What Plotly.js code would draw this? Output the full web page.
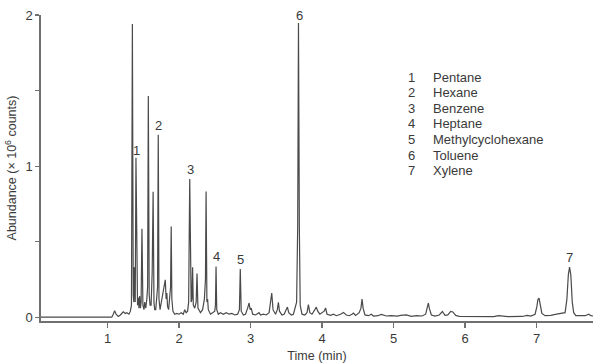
<!DOCTYPE html>
<html>
<head>
<meta charset="utf-8">
<script src="https://cdn.plot.ly/plotly-3.0.1.min.js"></script>
<style>html,body{margin:0;padding:0;background:#fff;}#chart{width:595px;height:363px;}</style>
</head>
<body>
<div id="chart"></div>
<script>
// Chromatogram trace: retention time (min) and abundance (x 10^6 counts)
const time = [
  0.07, 1.06, 1.08, 1.10, 1.12, 1.15, 1.18, 1.22, 1.25, 1.27, 1.30, 1.32,
  1.335, 1.348, 1.36, 1.368, 1.375, 1.382,
  1.388, 1.398, 1.41,
  1.42, 1.43, 1.44, 1.45, 1.46,
  1.47, 1.482, 1.495,
  1.51, 1.52, 1.535, 1.55,
  1.561, 1.571, 1.583,
  1.595, 1.61, 1.625, 1.638, 1.65, 1.66,
  1.675, 1.69, 1.70, 1.71, 1.72,
  1.735, 1.75, 1.77, 1.79, 1.808, 1.82, 1.83, 1.84, 1.855, 1.87,
  1.882, 1.891, 1.90, 1.915, 1.94, 1.97, 2.00, 2.03, 2.06, 2.08, 2.10, 2.12, 2.135,
  2.150, 2.162, 2.17, 2.18, 2.19, 2.20, 2.22, 2.24, 2.252, 2.265,
  2.28, 2.30, 2.33, 2.355, 2.37, 2.379, 2.39, 2.40, 2.41, 2.44, 2.47, 2.50,
  2.51, 2.518, 2.528, 2.55, 2.58, 2.62, 2.66, 2.70, 2.74, 2.78, 2.82, 2.845,
  2.857, 2.87, 2.90, 2.93, 2.96, 2.98, 2.995, 3.01, 3.03, 3.07, 3.12, 3.14, 3.18, 3.22, 3.26, 3.28,
  3.297, 3.315, 3.35, 3.375, 3.39, 3.405, 3.44, 3.47, 3.50, 3.516, 3.535, 3.57, 3.60, 3.63,
  3.645, 3.66, 3.671, 3.683, 3.695, 3.72, 3.76, 3.79, 3.81, 3.83, 3.86, 3.90, 3.92, 3.94, 3.97,
  4.03, 4.05, 4.07, 4.12, 4.16, 4.20, 4.26, 4.30, 4.34, 4.38, 4.42, 4.44, 4.47, 4.52,
  4.545, 4.56, 4.575, 4.60, 4.65, 4.69, 4.72, 4.78, 4.83, 4.90, 4.97, 5.05, 5.10, 5.18, 5.25, 5.32, 5.40, 5.45,
  5.475, 5.488, 5.50, 5.53, 5.58, 5.64, 5.684, 5.72, 5.76, 5.80, 5.83, 5.87, 5.92, 6.00, 6.20, 6.40, 6.47, 6.52, 6.60, 6.80, 6.87, 6.92,
  6.98, 7.005, 7.02, 7.035, 7.05, 7.075, 7.12, 7.20, 7.28, 7.35, 7.40,
  7.425, 7.445, 7.462, 7.48, 7.50, 7.52, 7.55, 7.62, 7.68, 7.73, 7.76, 7.79
];
const abundance = [
  0, 0, 0.02, 0.043, 0.02, 0.005, 0.015, 0.036, 0.025, 0.03, 0.02, 0.04,
  0.08, 1.94, 0.15, 0.10, 0.33, 0.10,
  0.10, 1.055, 0.10,
  0.08, 0.13, 0.06, 0.14, 0.06,
  0.10, 0.585, 0.08,
  0.05, 0.10, 0.06, 0.12,
  0.20, 1.464, 0.15,
  0.08, 0.08, 0.30, 0.83, 0.10, 0.05,
  0.05, 0.15, 0.20, 1.207, 0.12,
  0.05, 0.10, 0.16, 0.20, 0.248, 0.12, 0.16, 0.07, 0.05, 0.15,
  0.20, 0.60, 0.12, 0.04, 0.02, 0.025, 0.02, 0.03, 0.02, 0.05, 0.03, 0.04, 0.10,
  0.914, 0.15, 0.10, 0.12, 0.33, 0.08, 0.06, 0.10, 0.29, 0.06,
  0.05, 0.03, 0.05, 0.12, 0.25, 0.832, 0.10, 0.12, 0.05, 0.02, 0.03, 0.04,
  0.08, 0.336, 0.05, 0.02, 0.03, 0.02, 0.03, 0.02, 0.025, 0.015, 0.02, 0.05,
  0.319, 0.04, 0.015, 0.02, 0.06, 0.094, 0.05, 0.06, 0.02, 0.015, 0.03, 0.015, 0.02, 0.015, 0.03, 0.10,
  0.16, 0.05, 0.02, 0.05, 0.098, 0.04, 0.015, 0.02, 0.05, 0.067, 0.03, 0.015, 0.02, 0.08,
  0.10, 0.60, 1.947, 0.60, 0.08, 0.02, 0.015, 0.03, 0.083, 0.03, 0.02, 0.05, 0.067, 0.04, 0.02,
  0.04, 0.061, 0.02, 0.012, 0.02, 0.01, 0.02, 0.032, 0.015, 0.01, 0.02, 0.028, 0.012, 0.03,
  0.06, 0.12, 0.06, 0.015, 0.01, 0.02, 0.008, 0.01, 0.018, 0.008, 0.01, 0.007, 0.012, 0.015, 0.006, 0.01, 0.008, 0.02,
  0.07, 0.094, 0.06, 0.015, 0.008, 0.015, 0.038, 0.012, 0.015, 0.038, 0.035, 0.012, 0.006, 0.005, 0.004, 0.004, 0.01, 0.006, 0.004, 0.005, 0.012, 0.008,
  0.02, 0.07, 0.118, 0.127, 0.09, 0.025, 0.01, 0.012, 0.02, 0.025, 0.03,
  0.12, 0.28, 0.332, 0.28, 0.10, 0.03, 0.01, 0.008, 0.01, 0.02, 0.01, 0.008
];

// Peak identification
const peakNumbers = ['1', '2', '3', '4', '5', '6', '7'];
const compounds = ['Pentane', 'Hexane', 'Benzene', 'Heptane', 'Methylcyclohexane', 'Toluene', 'Xylene'];
const peakTimes = [1.398, 1.71, 2.15, 2.518, 2.857, 3.671, 7.462];
const peakHeights = [1.055, 1.207, 0.914, 0.336, 0.319, 1.947, 0.332];

const xTicks = [1, 2, 3, 4, 5, 6, 7];
const yTicks = [0, 1, 2];
const yMinorTicks = [0.5, 1.5];

const textColor = '#3a3a3a';
const axisColor = '#707070';
const font = {family: 'Liberation Sans, Arial, sans-serif', size: 13, color: textColor};

// label offsets above each peak (in abundance units)
const labelLift = [0.048, 0.061, 0.066, 0.066, 0.066, 0.053, 0.066];
const labelDx = [0.014, 0.005, 0.01, 0.004, 0.009, 0.017, 0];

const annotations = [];
peakNumbers.forEach((n, i) => {
  annotations.push({
    x: peakTimes[i] + labelDx[i], y: peakHeights[i] + labelLift[i], xref: 'x', yref: 'y',
    text: n, showarrow: false, xanchor: 'center', yanchor: 'middle', font: font
  });
});
// compound key
peakNumbers.forEach((n, i) => {
  const py = 77.3 + 15.57 * i;
  const yv = (317.5 - py) / 151.25;
  annotations.push({x: 5.252, y: yv, xref: 'x', yref: 'y', text: n, showarrow: false,
    xanchor: 'center', yanchor: 'middle', font: font});
  annotations.push({x: 5.531, y: yv, xref: 'x', yref: 'y', text: compounds[i], showarrow: false,
    xanchor: 'left', yanchor: 'middle', font: font});
});

const trace = {
  x: time, y: abundance, type: 'scatter', mode: 'lines',
  line: {color: '#4a4a4a', width: 1.2}, hoverinfo: 'skip'
};

const layout = {
  width: 595, height: 363,
  margin: {l: 41, r: 2, t: 15, b: 42},
  paper_bgcolor: '#fff', plot_bgcolor: '#fff',
  showlegend: false,
  font: font,
  xaxis: {
    range: [0.07, 7.79], tickvals: xTicks, ticks: 'outside', ticklen: 5, tickwidth: 1.2,
    tickcolor: axisColor, showline: true, linecolor: axisColor, linewidth: 1.6,
    showgrid: false, zeroline: false, tickfont: font,
    title: {text: 'Time (min)', font: {family: font.family, size: 12.5, color: textColor}, standoff: 8}
  },
  yaxis: {
    range: [-0.025, 2], tickvals: yTicks, ticks: 'outside', ticklen: 4, tickwidth: 1.2,
    tickcolor: axisColor, showline: true, linecolor: axisColor, linewidth: 1.6,
    showgrid: false, zeroline: false, tickfont: font,
    minor: {tickvals: yMinorTicks, ticks: 'outside', ticklen: 4, tickwidth: 1.2, tickcolor: axisColor, showgrid: false},
    title: {text: 'Abundance (× 10<sup>6</sup> counts)', font: {family: font.family, size: 12.5, color: textColor}, standoff: 6}
  },
  annotations: annotations
};

Plotly.newPlot('chart', [trace], layout, {staticPlot: true, displayModeBar: false});
</script>
</body>
</html>
